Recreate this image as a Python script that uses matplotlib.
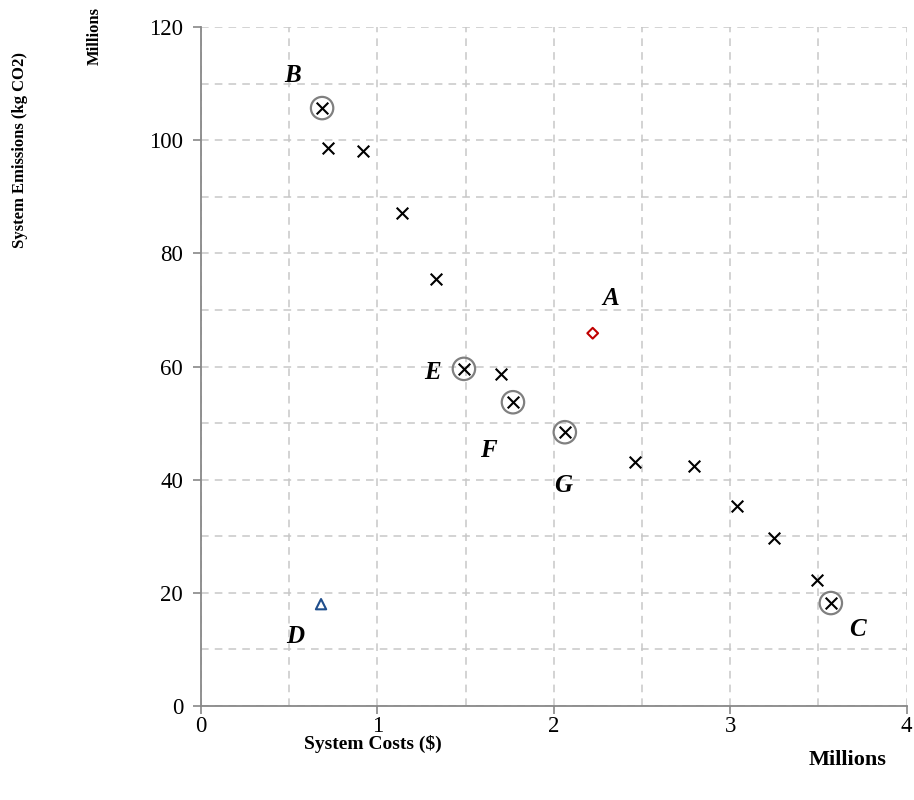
import matplotlib
matplotlib.use("Agg")
import matplotlib.pyplot as plt
from matplotlib.ticker import MultipleLocator

plt.rcParams['font.family'] = ['Liberation Serif', 'DejaVu Serif']

# Pareto front points (x in millions $, y in millions kg CO2)
pareto_x = [0.686, 0.72, 0.918, 1.139, 1.331, 1.49, 1.70, 1.768, 2.062, 2.459, 2.793, 3.04, 3.25, 3.49, 3.57]
pareto_y = [105.7, 98.6, 98.1, 87.1, 75.4, 59.6, 58.7, 53.7, 48.4, 43.1, 42.4, 35.3, 29.7, 22.3, 18.2]
# highlighted (circled) solutions
circled_x = [0.686, 1.49, 1.768, 2.062, 3.57]
circled_y = [105.7, 59.6, 53.7, 48.4, 18.2]
# point A (diamond) and D (triangle)
a_x, a_y = [2.22], [65.9]
d_x, d_y = [0.68], [18.0]

labels = ['B', 'A', 'E', 'F', 'G', 'D', 'C']
label_x = [0.52, 2.32, 1.31, 1.63, 2.055, 0.535, 3.72]
label_y = [111.5, 72.1, 59.0, 45.2, 39.0, 12.2, 13.5]

fig = plt.figure(figsize=(9.14, 8.0), dpi=100)
ax = fig.add_axes([0.22, 0.1175, 0.772, 0.8485])

ax.scatter(circled_x, circled_y, s=260, facecolors='none', edgecolors='#808080', linewidths=1.6, zorder=3)
ax.scatter(pareto_x, pareto_y, marker='x', s=70, color='black', linewidths=1.5, zorder=4)
ax.scatter(a_x, a_y, marker='D', s=30, facecolors='none', edgecolors='#c00000', linewidths=1.5, zorder=4)
ax.scatter(d_x, d_y, marker='^', s=55, facecolors='none', edgecolors='#1f4e8c', linewidths=1.5, zorder=4)

for lab, lx, ly in zip(labels, label_x, label_y):
    ax.text(lx, ly, lab, fontsize=18, fontweight='bold', fontstyle='italic', ha='center', va='center')

ax.set_xlim(0, 4)
ax.set_ylim(0, 120)
ax.xaxis.set_major_locator(MultipleLocator(1))
ax.xaxis.set_minor_locator(MultipleLocator(0.5))
ax.yaxis.set_major_locator(MultipleLocator(20))
ax.yaxis.set_minor_locator(MultipleLocator(10))
ax.grid(True, which='both', linestyle=(0, (5, 4)), color='#c8c8c8', linewidth=1.1)
ax.set_axisbelow(True)

for s in ['top', 'right']:
    ax.spines[s].set_visible(False)
for s in ['left', 'bottom']:
    ax.spines[s].set_color('#888888')
    ax.spines[s].set_linewidth(1.3)
ax.tick_params(which='major', length=6, color='#888888', width=1.2, labelsize=16.5, direction='out')
ax.tick_params(which='minor', length=0)
ax.tick_params(axis='x', pad=1)
ax.tick_params(axis='y', pad=7)

fig.text(0.408, 0.07, 'System Costs ($)', fontsize=14, fontweight='bold', ha='center', va='center')
fig.text(0.022, 0.8125, 'System Emissions (kg CO2)', rotation=90, fontsize=12, fontweight='bold', ha='center', va='center')
fig.text(0.104, 0.955, 'Millions', rotation=90, fontsize=12, fontweight='bold', ha='center', va='center')
fig.text(0.927, 0.05, 'Millions', fontsize=16, fontweight='bold', ha='center', va='center')

fig.savefig('out.png', dpi=100)
